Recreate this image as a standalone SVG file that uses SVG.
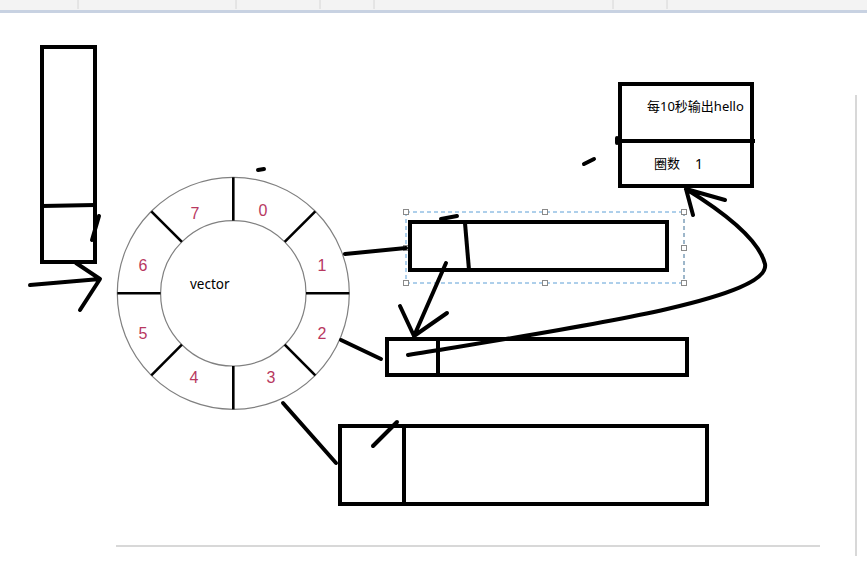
<svg xmlns="http://www.w3.org/2000/svg" width="867" height="574" viewBox="0 0 867 574">
<style>
.box{fill:none;stroke:#000;stroke-width:4;stroke-linejoin:miter}
.ink{fill:none;stroke:#000;stroke-width:4;stroke-linecap:round;stroke-linejoin:round}
.ring{fill:none;stroke:#808080;stroke-width:1.2}
.div{stroke:#000;stroke-width:2.6}
.num{font-family:"Liberation Sans",Arial,sans-serif;font-size:16px;fill:#b8385f;text-anchor:middle}
.lbl{font-family:"Noto Sans","Noto Sans CJK SC",sans-serif;font-size:13px;fill:#000}
.handle{fill:#fff;stroke:#8a8a8a;stroke-width:1}
</style>
<rect width="867" height="574" fill="#fff"/>
<g id="toolbar">
<rect x="0" y="0" width="867" height="10" fill="#f3f3f3"/>
<rect x="0" y="10" width="867" height="3" fill="#c8d2e2"/>
<g stroke="#d6d6d6" stroke-width="1">
<line x1="78" y1="0" x2="78" y2="9"/><line x1="236" y1="0" x2="236" y2="9"/><line x1="320" y1="0" x2="320" y2="9"/><line x1="374" y1="0" x2="374" y2="9"/><line x1="613" y1="0" x2="613" y2="9"/><line x1="667" y1="0" x2="667" y2="9"/>
</g>
</g>
<g id="page-edges" stroke="#d8d8d8" stroke-width="2">
<line x1="856" y1="95" x2="856" y2="556"/>
<line x1="116" y1="546" x2="820" y2="546"/>
</g>
<g id="queue">
<rect class="box" x="42" y="47" width="53" height="215"/>
<line class="box" x1="42" y1="206" x2="95" y2="205"/>
<line class="ink" x1="92" y1="240" x2="99" y2="216"/>
</g>
<g id="wheel">
<circle class="ring" cx="233.3" cy="293.3" r="116"/>
<circle class="ring" cx="233.3" cy="293.3" r="72.7"/>
<line class="div" x1="233.3" y1="177.3" x2="233.3" y2="220.6"/>
<line class="div" x1="284.7" y1="241.9" x2="315.3" y2="211.3"/>
<line class="div" x1="306" y1="293.3" x2="349.3" y2="293.3"/>
<line class="div" x1="284.7" y1="344.7" x2="315.3" y2="375.3"/>
<line class="div" x1="233.3" y1="366" x2="233.3" y2="409.3"/>
<line class="div" x1="181.9" y1="344.7" x2="151.3" y2="375.3"/>
<line class="div" x1="117.3" y1="293.3" x2="160.6" y2="293.3"/>
<line class="div" x1="181.9" y1="241.9" x2="151.3" y2="211.3"/>
<text class="num" x="263" y="216">0</text>
<text class="num" x="322" y="271">1</text>
<text class="num" x="322" y="339">2</text>
<text class="num" x="271" y="383">3</text>
<text class="num" x="194" y="383">4</text>
<text class="num" x="143" y="339">5</text>
<text class="num" x="143" y="271">6</text>
<text class="num" x="195" y="219">7</text>
<text class="lbl" x="190" y="289" style="font-size:13.5px">vector</text>
</g>
<g id="selection">
<path d="M406,212 H684 M406,283 H684 M406,212 V283" fill="none" stroke="#5d9fd6" stroke-width="1" stroke-dasharray="4,3"/>
<path d="M684,212 V283" fill="none" stroke="#3d6f95" stroke-width="1" stroke-dasharray="4,3"/>
<rect class="handle" x="403.5" y="209.5" width="5" height="5"/>
<rect class="handle" x="542.5" y="209.5" width="5" height="5"/>
<rect class="handle" x="681.5" y="209.5" width="5" height="5"/>
<rect class="handle" x="403.5" y="245.5" width="5" height="5"/>
<rect class="handle" x="681.5" y="245.5" width="5" height="5"/>
<rect class="handle" x="403.5" y="280.5" width="5" height="5"/>
<rect class="handle" x="542.5" y="280.5" width="5" height="5"/>
<rect class="handle" x="681.5" y="280.5" width="5" height="5"/>
</g>
<g id="slot1-list">
<rect class="box" x="410" y="222" width="257" height="48"/>
<line class="box" x1="465" y1="223" x2="469" y2="270"/>
<line class="ink" x1="441" y1="219" x2="457" y2="216"/>
</g>
<g id="slot2-list">
<rect class="box" x="387" y="339" width="300" height="36"/>
<line class="box" x1="438" y1="339" x2="438" y2="375"/>
</g>
<g id="slot3-list">
<rect class="box" x="340" y="426" width="367" height="78"/>
<line class="box" x1="404" y1="424" x2="404" y2="506"/>
<line class="ink" x1="373" y1="446" x2="397" y2="422"/>
</g>
<g id="task">
<rect class="box" x="620" y="84" width="132" height="102"/>
<line class="box" x1="616" y1="141" x2="755" y2="141"/>
<line class="ink" x1="617" y1="138" x2="617" y2="143"/>
<text class="lbl" x="647" y="111">每10秒输出hello</text>
<text class="lbl" x="654" y="168">圈数</text>
<text class="lbl" x="695" y="169" style="font-size:14px">1</text>
</g>
<g id="connectors">
<path class="ink" d="M30,285 L100,279 M76,263 L100,279 L80,310"/>
<path class="ink" d="M345,254 L406,248"/>
<path class="ink" d="M341,340 L381,359"/>
<path class="ink" d="M283,403 L336,463"/>
<path class="ink" d="M446,263 L414,336 M400,306 L414,336 L447,313"/>
<path class="ink" d="M408,355 C560,330 772,300 765,264 C758,236 712,205 686,189 M693,215 L686,189 L725,200"/>
<path class="ink" d="M258,170 L264,169"/>
<path class="ink" d="M584,164 L594,159"/>
</g>
</svg>
